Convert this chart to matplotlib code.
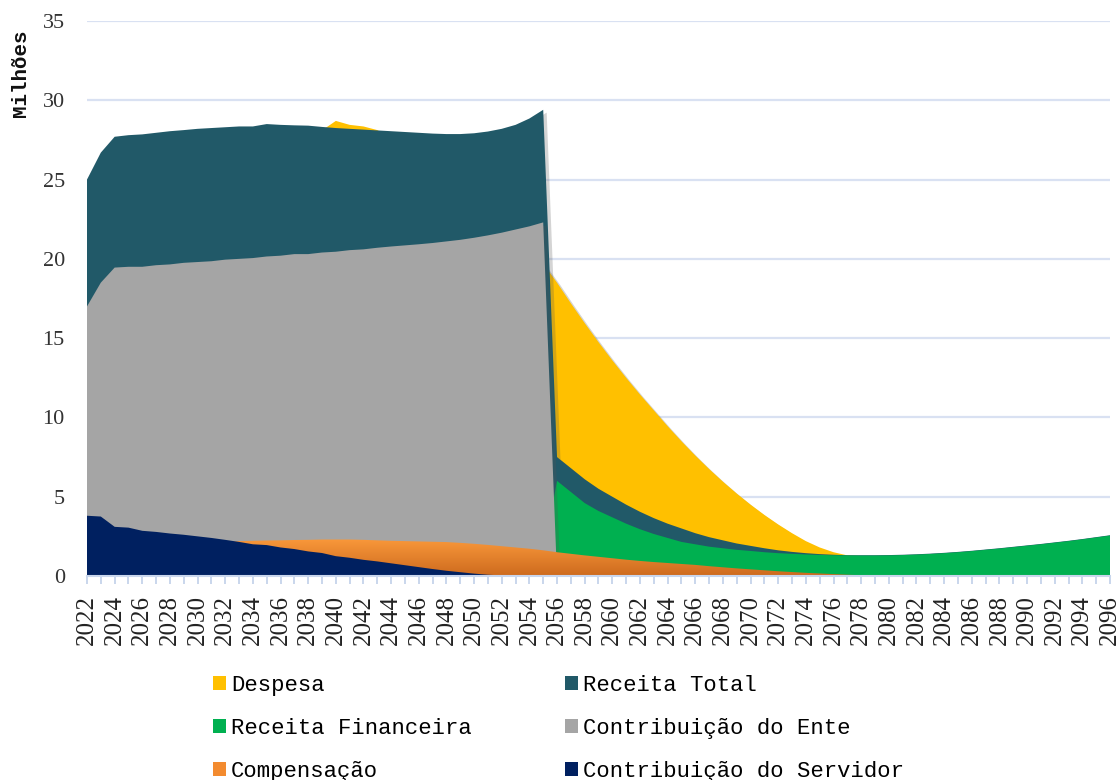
import numpy as np
import matplotlib
matplotlib.use('Agg')
from matplotlib import pyplot as plt
from matplotlib.patches import Patch
from matplotlib.colors import LinearSegmentedColormap
import matplotlib.patheffects as pe

years = np.arange(2022, 2097)

despesa = [23.5, 25.0, 26.0, 26.5, 26.8, 27.0, 27.2, 27.4, 27.5, 27.6, 27.7, 27.8,
           27.85, 27.9, 27.95, 28.0, 28.0, 28.1, 28.7, 28.45, 28.35, 28.12, 27.6, 27.2,
           26.7, 26.2, 25.6, 25.0, 24.3, 23.5, 22.7, 21.8, 20.8, 19.7,
           18.5, 17.2, 15.95, 14.75, 13.6, 12.5, 11.45, 10.45, 9.45, 8.5, 7.6, 6.75,
           5.95, 5.2, 4.5, 3.85, 3.25, 2.7, 2.2, 1.8, 1.5, 1.3,
           1.25, 1.2, 1.15, 1.1, 1.05, 1.0, 0.95, 0.9, 0.85, 0.8, 0.75, 0.7,
           0.65, 0.6, 0.55, 0.5, 0.45, 0.4, 0.35]

receita_total = [25.0, 26.7, 27.7, 27.8, 27.85, 27.95, 28.05, 28.12, 28.2, 28.25, 28.3, 28.35,
                 28.35, 28.5, 28.45, 28.42, 28.4, 28.32, 28.25, 28.2, 28.15, 28.1, 28.05, 28.0,
                 27.95, 27.9, 27.87, 27.87, 27.92, 28.03, 28.2, 28.45, 28.85, 29.4,
                 7.5, 6.8, 6.1, 5.5, 5.0, 4.5, 4.05, 3.65, 3.3, 3.0, 2.7, 2.45,
                 2.25, 2.05, 1.9, 1.75, 1.62, 1.52, 1.44, 1.38, 1.34, 1.31,
                 1.31, 1.31, 1.32, 1.34, 1.37, 1.41, 1.46, 1.52, 1.59, 1.67, 1.75, 1.84,
                 1.93, 2.02, 2.12, 2.22, 2.33, 2.45, 2.57]

receita_financeira = [0.8, 0.85, 0.9, 0.95, 1.0, 1.0, 1.05, 1.05, 1.1, 1.1, 1.15, 1.15,
                      1.2, 1.2, 1.2, 1.25, 1.25, 1.25, 1.3, 1.3, 1.3, 1.3, 1.3, 1.3,
                      1.3, 1.3, 1.3, 1.3, 1.3, 1.3, 1.3, 1.3, 1.3, 1.3,
                      6.0, 5.3, 4.6, 4.1, 3.7, 3.3, 2.95, 2.65, 2.4, 2.15, 2.0, 1.85,
                      1.75, 1.65, 1.58, 1.5, 1.44, 1.4, 1.36, 1.33, 1.31, 1.3,
                      1.29, 1.29, 1.3, 1.32, 1.35, 1.39, 1.44, 1.5, 1.57, 1.65, 1.73, 1.82,
                      1.91, 2.0, 2.1, 2.2, 2.31, 2.43, 2.55]

contrib_ente = [17.0, 18.5, 19.45, 19.5, 19.5, 19.6, 19.65, 19.75, 19.8, 19.85, 19.95, 20.0,
                20.05, 20.15, 20.2, 20.3, 20.3, 20.4, 20.45, 20.55, 20.6, 20.7, 20.78, 20.85,
                20.92, 21.0, 21.1, 21.2, 21.33, 21.48, 21.65, 21.85, 22.05, 22.3] + [0.0] * 41

compensacao = [1.6, 1.7, 1.8, 1.85, 1.9, 1.95, 2.0, 2.05, 2.1, 2.12, 2.15,
               2.2, 2.22, 2.24, 2.25, 2.27, 2.28, 2.3, 2.3, 2.3, 2.28, 2.25, 2.22,
               2.2, 2.18, 2.16, 2.14, 2.09, 2.03, 1.96, 1.88, 1.8, 1.72, 1.62,
               1.5, 1.4, 1.3, 1.21, 1.12, 1.03, 0.95, 0.88, 0.82, 0.76, 0.7, 0.62,
               0.55, 0.48, 0.42, 0.36, 0.3, 0.25, 0.2, 0.16, 0.12, 0.08, 0.05, 0.03,
               0.02] + [0.0] * 16

contrib_servidor = [3.8, 3.75, 3.1, 3.05, 2.85, 2.78, 2.68, 2.6, 2.5, 2.4, 2.28, 2.15,
                    2.0, 1.95, 1.8, 1.7, 1.55, 1.45, 1.25, 1.15, 1.02, 0.92, 0.8, 0.68,
                    0.56, 0.44, 0.33, 0.24, 0.15, 0.08, 0.04, 0.02] + [0.0] * 43

series = [
    ('Despesa', despesa, '#FFC000'),
    ('Receita Total', receita_total, '#215968'),
    ('Receita Financeira', receita_financeira, '#00B050'),
    ('Contribuição do Ente', contrib_ente, '#A5A5A5'),
    ('Compensação', compensacao, '#F38B2F'),
    ('Contribuição do Servidor', contrib_servidor, '#002060'),
]

plt.rcParams['font.family'] = 'Liberation Serif'

fig = plt.figure(figsize=(11.2, 7.8), dpi=100)
ax = fig.add_axes([87 / 1120, 1 - 576 / 780, 1023 / 1120, 555 / 780])

shadow = [pe.SimplePatchShadow(offset=(2.5, -2), alpha=0.25, shadow_rgbFace='#555555'), pe.Normal()]

for z, (name, values, color) in enumerate(series, start=2):
    if name == 'Compensação':
        # gradient fill, dark at the bottom
        poly = ax.fill_between(years, 0, values, facecolor='none', lw=0, zorder=z)
        cmap = LinearSegmentedColormap.from_list('comp', ['#CD6A1E', '#F9983A'])
        grad = np.linspace(0, 1, 256).reshape(-1, 1)
        im = ax.imshow(grad, extent=[years[0], years[-1], 0, max(values)], origin='lower',
                       aspect='auto', cmap=cmap, zorder=z)
        im.set_clip_path(poly.get_paths()[0], transform=ax.transData)
    else:
        poly = ax.fill_between(years, 0, values, facecolor=color, lw=0, zorder=z)
        poly.set_path_effects(shadow)

ax.set_xlim(years[0], years[-1])
ax.set_ylim(0, 35)
ax.set_yticks(range(0, 36, 5))
ax.set_xticks(years)
ax.set_xticklabels([str(y) if (y - years[0]) % 2 == 0 else '' for y in years], rotation=90)

ax.grid(axis='y', color='#D9E1F2', linewidth=1.6, zorder=0)
ax.set_axisbelow(True)
for side in ['top', 'right', 'left']:
    ax.spines[side].set_visible(False)
ax.spines['bottom'].set_color('#C9D6EC')
ax.spines['bottom'].set_linewidth(1.5)
ax.spines['bottom'].set_zorder(10)

ax.tick_params(axis='x', direction='out', length=6, width=1.4, color='#C9D6EC',
               labelsize=18, pad=8, labelcolor='#222222')
ax.tick_params(axis='y', length=0, labelsize=16, pad=16, labelcolor='#333333')

ax.set_ylabel('Milhões', family='Liberation Mono', fontweight='bold', fontsize=15,
              color='#111111')
ax.yaxis.set_label_coords(-0.056, 0.905)

handles = {name: Patch(facecolor=color, edgecolor='none') for name, _, color in series}
order = ['Despesa', 'Receita Financeira', 'Compensação',
         'Receita Total', 'Contribuição do Ente', 'Contribuição do Servidor']
fig.legend([handles[n] for n in order], order, loc='upper left',
           bbox_to_anchor=(213 / 1120, 1 - 675 / 780), ncol=2, frameon=False,
           prop={'family': 'Liberation Mono', 'size': 16}, handlelength=0.6, handleheight=0.6,
           handletextpad=0.2, columnspacing=4.2, labelspacing=0.98, borderpad=0,
           borderaxespad=0)

fig.savefig('out.png', dpi=100)
